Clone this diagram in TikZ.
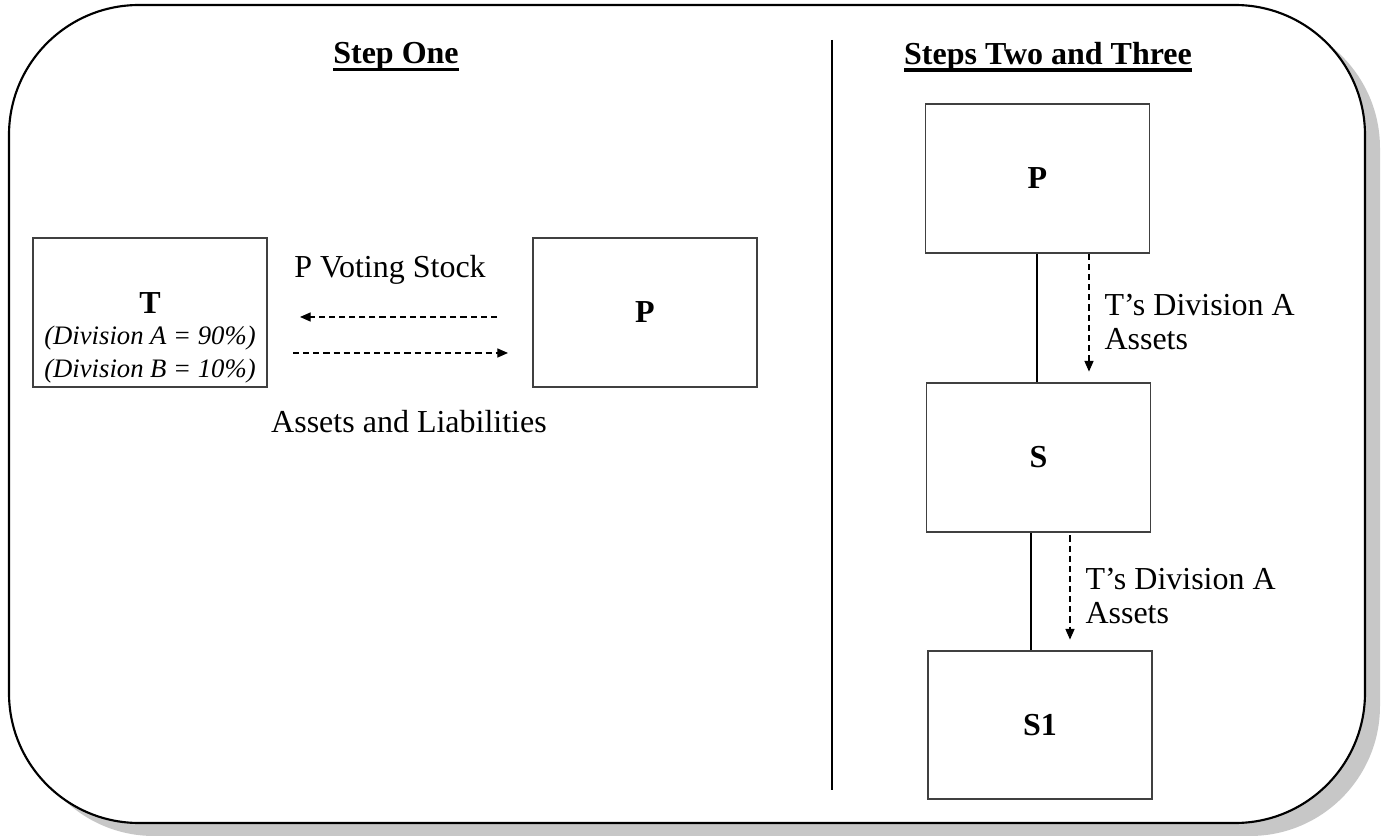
\documentclass[tikz,border=0pt]{standalone}
\usepackage{fontspec}
\setmainfont{Liberation Serif}
\usetikzlibrary{arrows.meta}

% bold heading with a heavy underline
\newcommand\headline[1]{\setbox0\hbox{\textbf{#1}}\leavevmode\rlap{\rule[-2.9pt]{\wd0}{1.3pt}}\box0}

\begin{document}
\begin{tikzpicture}[x=0.375pt, y=-0.375pt, font=\fontsize{12}{12.5}\selectfont,
    box/.style={draw=black!75, line width=0.55pt, minimum width=224*0.375pt,
        minimum height=149*0.375pt, inner sep=0pt, font=\fontsize{12}{12.5}\selectfont\bfseries},
    flow/.style={-{Triangle[length=4pt,width=3.4pt]}, dash pattern=on 2.3pt off 1.5pt, line width=0.45pt},
    link/.style={line width=0.55pt}]
    \useasboundingbox (0,0) rectangle (1388,837);

    % frame and its shadow
    \fill[black!22, rounded corners=48.75pt] (24,18) rectangle (1380,836);
    \draw[line width=0.8pt, fill=white, rounded corners=48.75pt] (9,5) rectangle (1365,823);

    % divider
    \draw[link] (832,40) -- (832,790);

    % headings
    \node (one) at (396,57) {\headline{Step One}};
    \node (twothree) at (1048,57) {\headline{Steps Two and Three}};

    % step one
    \node[box, minimum width=234*0.375pt] (T) at (150,312.5) {};
    \node[align=center, inner sep=0pt] (Tlab) at (150,338)
        {\textbf{T}\\[-1pt] {\fontsize{10}{12.5}\selectfont\itshape (Division A = 90\%)}\\
         {\fontsize{10}{12.5}\selectfont\itshape (Division B = 10\%)}};
    \node[box] (P) at (645,312.5) {P};

    \coordinate (vs1) at (497,317);
    \coordinate (vs2) at (300,317);
    \coordinate (al1) at (293,353);
    \coordinate (al2) at (508,353);
    \draw[flow] (vs1) -- (vs2);
    \draw[flow] (al1) -- (al2);

    \node (vs) at (390,270) {P Voting Stock};
    \node (al) at (409,422) {Assets and Liabilities};

    % steps two and three
    \node[box] (P2) at (1037.5,178.5) {P};
    \node[box] (S) at (1038.5,457.5) {S};
    \node[box, minimum height=148*0.375pt] (S1) at (1040,725) {S1};

    \coordinate (up) at (1037,0);
    \coordinate (upd) at (1089,0);
    \coordinate (lo) at (1031,0);
    \coordinate (lod) at (1070,0);

    \draw[link] (P2.south -| up) -- (S.north -| up);
    \draw[link] (S.south -| lo) -- (S1.north -| lo);
    \draw[flow, shorten >=4pt] (P2.south -| upd) -- (S.north -| upd);
    \draw[flow, shorten <=1pt, shorten >=4pt] (S.south -| lod) -- (S1.north -| lod);

    \node[align=left, anchor=west, inner sep=0pt] (ta1) at (1104,322) {T’s Division A\\Assets};
    \node[align=left, anchor=west, inner sep=0pt] (ta2) at (1085,596) {T’s Division A\\Assets};
\end{tikzpicture}
\end{document}
